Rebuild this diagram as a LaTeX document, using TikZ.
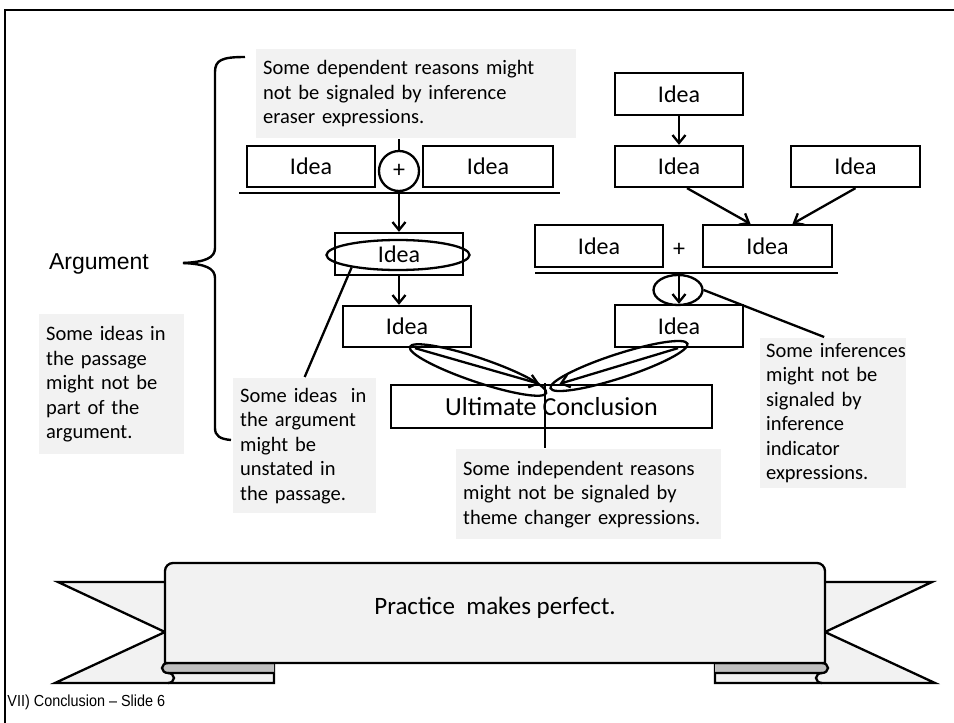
\documentclass[tikz,border=0pt]{standalone}
\usepackage{fontspec}
\setmainfont{Carlito}
\newfontfamily\arialfont{Liberation Sans}
\usetikzlibrary{arrows.meta,shapes.geometric}
\definecolor{notegray}{HTML}{F2F2F2}
\definecolor{foldgray}{HTML}{BFBFBF}

\begin{document}
\begin{tikzpicture}[x=1pt,y=-1pt,line width=2.3pt,
    idea/.style={draw,fill=white,minimum width=128pt,minimum height=41pt,inner sep=0pt,font=\fontsize{24}{28}\selectfont},
    note/.style={fill=notegray,anchor=north west,align=left,inner xsep=7pt,inner ysep=4pt,font=\fontsize{20.5}{24.5}\selectfont},
    oval/.style={draw,ellipse,inner sep=0pt},
    arr/.style={-{Straight Barb[length=8pt,width=13pt]}}]
    \useasboundingbox (0,0) rectangle (954,723);
    \draw[line width=2.4pt] (5,723) -- (5,10) -- (954,10);

    % brace
    \draw[line width=2.4pt] (245,57) .. controls (222,57) and (215,60) .. (215,72) -- (215,248)
        .. controls (215,258) and (205,262) .. (183,263);
    \draw[line width=2.4pt] (183,263) .. controls (205,264) and (215,268) .. (215,278) -- (215,428)
        .. controls (215,436) and (220,439) .. (231,440);
    \node[font=\arialfont\fontsize{23}{27}\selectfont] (argLabel) at (99,264) {Argument};

    % notes
    \node[note,text width=306pt,minimum height=89pt] (noteA) at (255,48)
        {Some dependent reasons might\\not be signaled by inference\\eraser expressions.};
    \node[note,text width=131pt,minimum height=140pt] (noteB) at (38,313)
        {Some ideas in\\the passage\\might not be\\part of the\\argument.};
    \node[note,text width=129pt,minimum height=135pt] (noteC) at (232,377)
        {Some ideas~ in\\the argument\\might be\\unstated in\\the passage.};
    \node[note,text width=251pt,minimum height=90pt] (noteD) at (455,448)
        {Some independent reasons\\might not be signaled by\\theme changer expressions.};
    \node[note,text width=134pt,minimum height=150pt,inner xsep=6pt] (noteE) at (759,337)
        {\mbox{Some inferences}\\might not be\\signaled by\\inference\\indicator\\expressions.};

    % left branch
    \node[idea] (idA) at (311,166.5) {Idea};
    \node[idea,minimum width=130pt] (idB) at (488,166.5) {Idea};
    \node[draw,circle,fill=white,minimum size=40pt,inner sep=0pt,font=\fontsize{24}{28}\selectfont] (plusA) at (399,171) {+};
    \draw (239,193) -- (560,193);
    \node[idea,minimum height=42pt] (idC) at (399,254) {Idea};
    \node[oval,minimum width=143pt,minimum height=30pt] (ovC) at (398,255) {};
    \node[idea] (idD) at (407,326.5) {Idea};
    \node[idea,minimum width=321pt,minimum height=43pt,font=\fontsize{26}{30}\selectfont] (UC) at (551.5,406.5) {Ultimate Conclusion};

    % right branch
    \node[idea,minimum height=42pt] (idE) at (679,94) {Idea};
    \node[idea] (idF) at (679,166.5) {Idea};
    \node[idea,minimum width=129pt] (idG) at (855.5,166.5) {Idea};
    \node[idea,minimum width=129pt,minimum height=42pt] (idH) at (767.5,246) {Idea};
    \node[idea,minimum height=42pt] (idI) at (599,246) {Idea};
    \node[font=\fontsize{24}{28}\selectfont] (plusB) at (679,250) {+};
    \draw (535,273) -- (838,273);
    \coordinate (barR) at (679,273);
    \node[idea,minimum height=42pt] (idJ) at (679,326) {Idea};
    \node[oval,minimum width=49pt,minimum height=30pt] (ovK) at (678,290) {};

    % arrows
    \draw (plusA.north |- noteA.south) -- (plusA.north);
    \draw[arr] (plusA.south) -- (plusA.south |- idC.north);
    \draw[arr] (idC.south) -- (idC.south |- idD.north);
    \draw[arr] ([xshift=8pt]idD.south) -- ([xshift=-12pt]UC.north);
    \draw[arr] ([xshift=-1pt]idJ.south) -- ([xshift=8pt]UC.north);
    \draw[arr] (idE) -- (idF);
    \draw[arr] ([xshift=8pt]idF.south) -- ([xshift=-17pt]idH.north);
    \draw[arr] (idG.south) -- ([xshift=25pt]idH.north);
    \draw[arr] (barR) -- (idJ);
    \node[oval,minimum width=144pt,minimum height=24pt,rotate=-18.7] (ovD) at (478,370) {};
    \node[oval,minimum width=144pt,minimum height=24pt,rotate=18] (ovJ) at (619,366) {};
    \coordinate (meet) at (545,383);
    \draw (meet) -- (meet |- noteD.north);
    \draw (ovC.195) -- (noteC.north);
    \draw (ovK.east) -- ([xshift=-9pt]noteE.north);

    % ribbon
    \draw[fill=notegray] (58,582) -- (274,582) -- (274,683) -- (55,683) -- (165,632) -- cycle;
    \draw[fill=notegray] (932,582) -- (715,582) -- (715,683) -- (935,683) -- (825,632) -- cycle;
    \draw[fill=foldgray] (274,663) -- (168,663) arc[start angle=90,end angle=270,x radius=6pt,y radius=5pt] -- (274,673);
    \draw (168,673) arc[start angle=90,end angle=-90,x radius=6pt,y radius=5pt];
    \draw[fill=foldgray] (715,663) -- (822,663) arc[start angle=90,end angle=-90,x radius=6pt,y radius=5pt] -- (715,673);
    \draw (822,673) arc[start angle=90,end angle=270,x radius=6pt,y radius=5pt];
    \draw[fill=notegray] (165,663) -- (165,571) arc[start angle=180,end angle=90,radius=8pt]
        -- (817,563) arc[start angle=90,end angle=0,radius=8pt] -- (825,663) -- cycle;
    \node[font=\fontsize{25}{30}\selectfont] (motto) at (495,608) {Practice~ makes perfect.};

    \node[anchor=west,font=\arialfont\fontsize{16}{18}\selectfont] (slide) at (3,702) {\scalebox{0.9}[1]{VII) Conclusion – Slide 6}};
\end{tikzpicture}
\end{document}
